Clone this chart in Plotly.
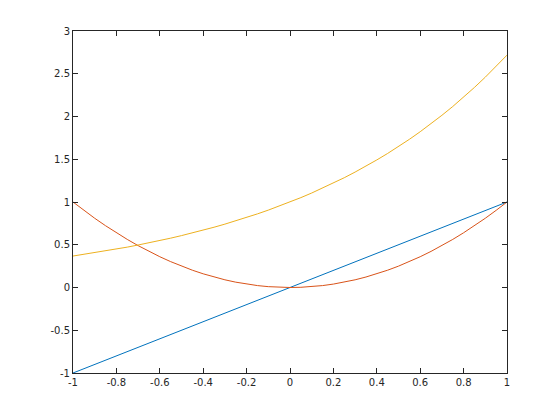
import plotly.graph_objects as go

x_vals = [-1.0, -0.95, -0.9, -0.85, -0.8, -0.75, -0.7, -0.65, -0.6, -0.55, -0.5,
          -0.45, -0.4, -0.35, -0.3, -0.25, -0.2, -0.15, -0.1, -0.05, 0.0,
          0.05, 0.1, 0.15, 0.2, 0.25, 0.3, 0.35, 0.4, 0.45, 0.5,
          0.55, 0.6, 0.65, 0.7, 0.75, 0.8, 0.85, 0.9, 0.95, 1.0]
linear_vals = [-1.0, -0.95, -0.9, -0.85, -0.8, -0.75, -0.7, -0.65, -0.6, -0.55, -0.5,
               -0.45, -0.4, -0.35, -0.3, -0.25, -0.2, -0.15, -0.1, -0.05, 0.0,
               0.05, 0.1, 0.15, 0.2, 0.25, 0.3, 0.35, 0.4, 0.45, 0.5,
               0.55, 0.6, 0.65, 0.7, 0.75, 0.8, 0.85, 0.9, 0.95, 1.0]
square_vals = [1.0, 0.9025, 0.81, 0.7225, 0.64, 0.5625, 0.49, 0.4225, 0.36, 0.3025, 0.25,
               0.2025, 0.16, 0.1225, 0.09, 0.0625, 0.04, 0.0225, 0.01, 0.0025, 0.0,
               0.0025, 0.01, 0.0225, 0.04, 0.0625, 0.09, 0.1225, 0.16, 0.2025, 0.25,
               0.3025, 0.36, 0.4225, 0.49, 0.5625, 0.64, 0.7225, 0.81, 0.9025, 1.0]
exp_vals = [0.368, 0.387, 0.407, 0.427, 0.449, 0.472, 0.497, 0.522, 0.549, 0.577, 0.607,
            0.638, 0.670, 0.705, 0.741, 0.779, 0.819, 0.861, 0.905, 0.951, 1.0,
            1.051, 1.105, 1.162, 1.221, 1.284, 1.350, 1.419, 1.492, 1.568, 1.649,
            1.733, 1.822, 1.916, 2.014, 2.117, 2.226, 2.340, 2.460, 2.586, 2.718]

x_ticks = [-1, -0.8, -0.6, -0.4, -0.2, 0, 0.2, 0.4, 0.6, 0.8, 1]
x_tick_labels = ["-1", "-0.8", "-0.6", "-0.4", "-0.2", "0", "0.2", "0.4", "0.6", "0.8", "1"]
y_ticks = [-1, -0.5, 0, 0.5, 1, 1.5, 2, 2.5, 3]
y_tick_labels = ["-1", "-0.5", "0", "0.5", "1", "1.5", "2", "2.5", "3"]

colors = ["#0072BD", "#D95319", "#EDB120"]

fig = go.Figure()
for ys, c in zip([linear_vals, square_vals, exp_vals], colors):
    fig.add_trace(go.Scatter(x=x_vals, y=ys, mode="lines",
                             line=dict(color=c, width=1), showlegend=False))

axis_common = dict(showgrid=False, zeroline=False, showline=True, linecolor="#262626",
                   linewidth=1, mirror="ticks", ticks="inside", ticklen=5,
                   tickcolor="#262626", tickwidth=1,
                   tickfont=dict(family="DejaVu Sans", size=10, color="#262626"))

fig.update_xaxes(range=[-1, 1], tickmode="array", tickvals=x_ticks,
                 ticktext=x_tick_labels, ticklabelstandoff=0, **axis_common)
fig.update_yaxes(range=[-1, 3], tickmode="array", tickvals=y_ticks,
                 ticktext=y_tick_labels, **axis_common)

fig.update_layout(width=560, height=420, margin=dict(l=65, r=61, t=23, b=55),
                  paper_bgcolor="white", plot_bgcolor="white")

fig.write_html("out.html")
